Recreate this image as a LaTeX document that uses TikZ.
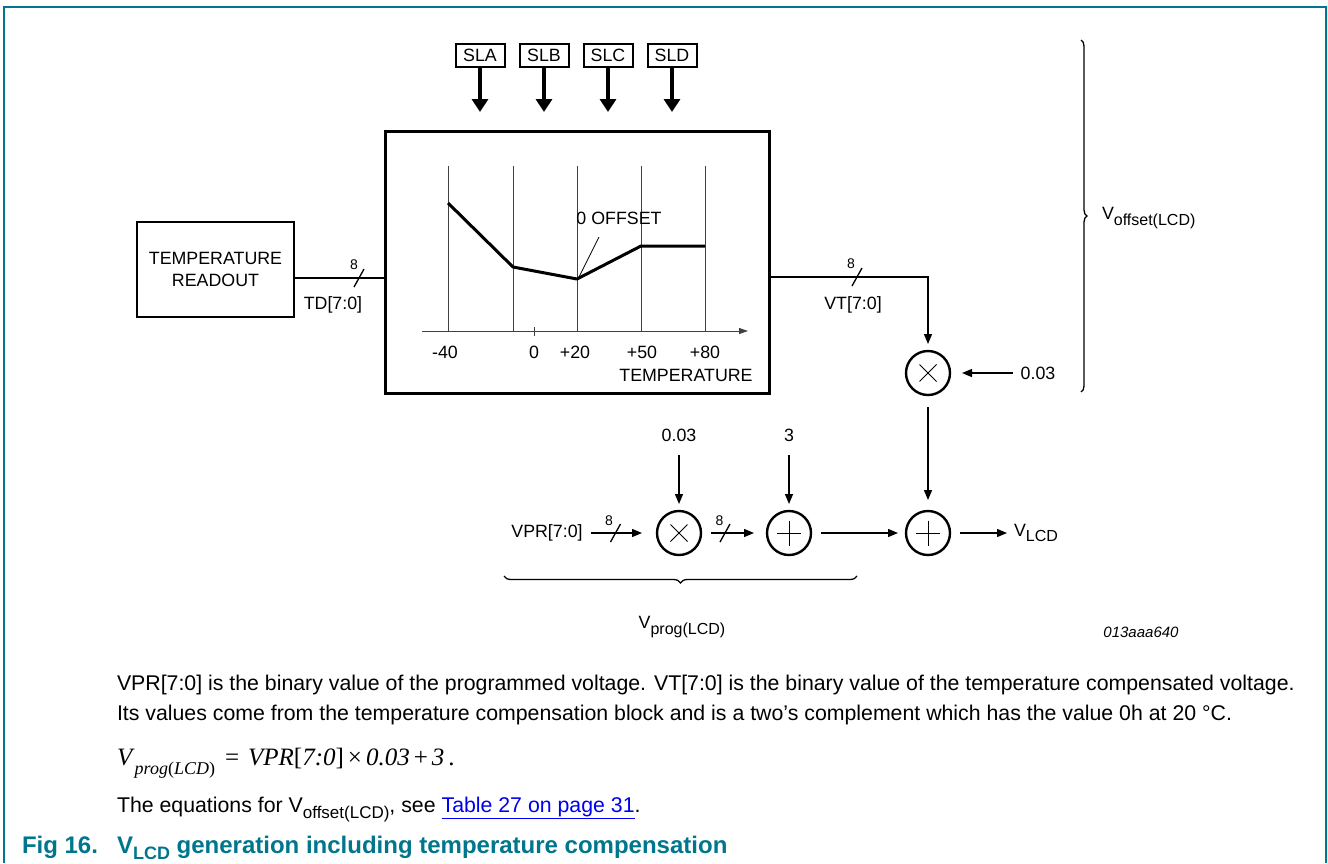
\documentclass[tikz,border=0pt]{standalone}
\usepackage{fontspec}
\setmainfont{Liberation Sans}
\newfontfamily\eqfont{Liberation Serif}
\usetikzlibrary{arrows.meta,decorations.pathreplacing,calc}
\definecolor{nxpteal}{RGB}{0,118,140}
\definecolor{linkblue}{RGB}{0,0,240}
\newcommand\lowsub[1]{\raisebox{-0.3em}{\fontsize{16}{16}\selectfont #1}}
\newcommand\bodysub[1]{\raisebox{-0.3em}{\fontsize{17}{17}\selectfont #1}}
\begin{document}
\begin{tikzpicture}[x=1pt,y=-1pt,
  every node/.style={inner sep=0pt, outer sep=0pt, font=\fontsize{17.8}{22}\selectfont},
  thinline/.style={line width=1.3pt},
  arr/.style={line width=1.3pt, -{Triangle[length=10pt,width=8pt]}},
  bigarr/.style={line width=4pt, -{Triangle[length=13pt,width=16pt]}},
  heavybox/.style={draw, line width=3pt},
  slbox/.style={draw, line width=2pt, minimum width=49pt, minimum height=23pt},
  opcirc/.style={draw, circle, line width=2.4pt, minimum size=44pt},
  mulcirc/.style={opcirc, path picture={
     \draw[line width=1pt] ([shift={(-8.5,-8.5)}]path picture bounding box.center) -- ([shift={(8.5,8.5)}]path picture bounding box.center)
                           ([shift={(-8.5,8.5)}]path picture bounding box.center) -- ([shift={(8.5,-8.5)}]path picture bounding box.center);}},
  addcirc/.style={opcirc, path picture={
     \draw[line width=1pt] ([shift={(-12,0)}]path picture bounding box.center) -- ([shift={(12,0)}]path picture bounding box.center)
                           ([shift={(0,-12.5)}]path picture bounding box.center) -- ([shift={(0,12.5)}]path picture bounding box.center);}},
  gridl/.style={line width=0.9pt, draw=black!75},
  curveline/.style={line width=3pt, line join=round},
  small/.style={font=\fontsize{14}{16}\selectfont},
  bodytext/.style={anchor=base west, font=\fontsize{21.3}{24}\selectfont},
  captext/.style={anchor=base west, font=\fontsize{24}{26}\selectfont\bfseries, text=nxpteal},
]
\useasboundingbox (0,0) rectangle (1328,863);
% frame
\draw[nxpteal, line width=2pt] (4,863) -- (4,7) -- (1326,7) -- (1326,863);

% SL inputs
\node[slbox] (sla) at (480,55.5) {SLA};
\node[slbox] (slb) at (544,55.5) {SLB};
\node[slbox] (slc) at (608,55.5) {SLC};
\node[slbox] (sld) at (672,55.5) {SLD};
\coordinate (tipy) at (0,112);
\foreach \s in {sla,slb,slc,sld}{
  \draw[bigarr] (\s.south) -- (\s.south |- tipy);
}

% main compensation box
\node[heavybox, minimum width=384pt, minimum height=262pt] (tc) at (577,262) {};
% grid lines
\foreach \x in {448,513,577,641,705}{
  \draw[gridl] (\x,166) -- (\x,331);
}
\draw[gridl, -{Triangle[length=9pt,width=6pt]}] (422,331) -- (748,331);
\draw[gridl] (534,327) -- (534,336);
\draw[curveline] (448,203) -- (513,267) -- (577,279) -- (641,246) -- (705,246);
\node (off) at (619,218) {0 OFFSET};
\draw[line width=0.8pt] (599,237) -- (579,277);
\node at (445,352) {-40};
\node at (534,352) {0};
\node at (575,352) {+20};
\node at (642,352) {+50};
\node at (705,352) {+80};
\node at (686,375) {TEMPERATURE};

% temperature readout
\node[draw, line width=2.5pt, minimum width=157pt, minimum height=95pt, align=center] (tr) at (215.5,269.5) {TEMPERATURE\\READOUT};
\coordinate (tdline) at (0,278);
\draw[thinline] (tr.east |- tdline) -- (tc.west |- tdline);
\draw[thinline] (354,287) -- (364,269);
\node[small] at (354,265) {8};
\node at (333,305) {TD[7:0]};

% VT path
\node[mulcirc] (mul1) at (928,373) {};
\coordinate (vtline) at (0,277);
\draw[arr, shorten >=7pt] (tc.east |- vtline) -| (mul1.north);
\draw[thinline] (852,286) -- (862,268);
\node[small] at (851,264) {8};
\node at (853,305) {VT[7:0]};
\node (k1) at (1038,373) {0.03};
\draw[arr, shorten <=8pt, shorten >=12pt] (k1.west) -- (mul1.east);

% offset brace
\draw[thinline, decorate, decoration={brace, amplitude=6pt}] (1081,40) -- (1081,392);
\node[anchor=west] (voff) at (1102,218) {V\lowsub{offset(LCD)}};

% programmed voltage chain
\node (vpr) at (547,533) {VPR[7:0]};
\node[mulcirc] (mul2) at (679,533) {};
\node[addcirc] (add1) at (789,533) {};
\node[addcirc] (add2) at (928,533) {};
\node[anchor=west] (vlcd) at (1014,533) {V\lowsub{LCD}};
\node (k2) at (679,435) {0.03};
\node (k3) at (789,435) {3};
\draw[arr, shorten <=8pt, shorten >=15pt] (vpr.east) -- (mul2.west);
\draw[arr, shorten <=10pt, shorten >=13pt] (mul2.east) -- (add1.west);
\draw[arr, shorten <=10pt, shorten >=8pt] (add1.east) -- (add2.west);
\draw[arr, shorten <=10pt, shorten >=7pt] (add2.east) -- (vlcd.west);
\draw[arr, shorten <=14pt, shorten >=7pt] (k2.south) -- (mul2.north);
\draw[arr, shorten <=14pt, shorten >=7pt] (k3.south) -- (add1.north);
\draw[arr, shorten <=12pt, shorten >=11pt] (mul1.south) -- (add2.north);
% bus slashes
\draw[thinline] (610.5,542) -- (620.5,524);
\node[small] at (609,521) {8};
\draw[thinline] (720,542) -- (730,524);
\node[small] at (719.5,521) {8};
% prog brace
\draw[thinline, decorate, decoration={brace, amplitude=7pt}] (857,576) -- (504,576);
\node (vprog) at (682,627) {V\lowsub{prog(LCD)}};

\node[font=\fontsize{15}{16}\selectfont\itshape] (code) at (1141,632) {013aaa640};

% description text
\node[bodytext] (t1) at (117,690) {VPR[7:0] is the binary value of the programmed voltage. VT[7:0] is the binary value of the temperature compensated voltage.};
\node[bodytext] (t2) at (117,720) {Its values come from the temperature compensation block and is a two’s complement which has the value 0h at 20 °C.};
\node[anchor=base west, font=\fontsize{25}{26}\selectfont\eqfont] (eq) at (117,765)
  {\textit{V}\raisebox{-9pt}{\fontsize{18}{18}\selectfont\textit{prog}(\textit{LCD})}\hspace{10pt}=\hspace{9pt}\textit{VPR}[\textit{7:0}]\hspace{4pt}×\hspace{4pt}\textit{0.03}\hspace{4pt}+\hspace{4pt}\textit{3}\hspace{4pt}.};
\node[bodytext] (t3) at (117,812) {The equations for V\bodysub{offset(LCD)}, see \textcolor{linkblue}{\underline{Table 27 on page 31}}.};
\node[captext] (cap) at (22,853) {Fig 16.};
\node[captext] (cap2) at (117,853) {V\raisebox{-0.28em}{\fontsize{18}{18}\selectfont LCD} generation including temperature compensation};
\end{tikzpicture}
\end{document}
